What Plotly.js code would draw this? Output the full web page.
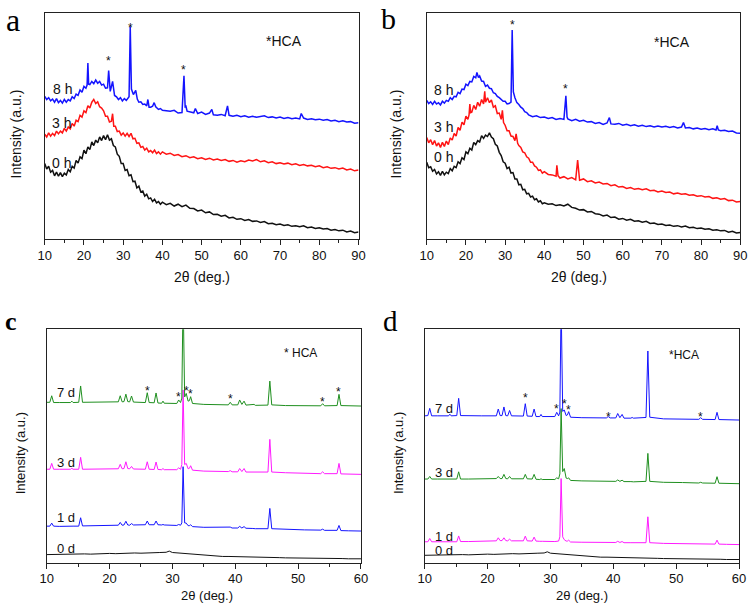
<!DOCTYPE html>
<html><head><meta charset="utf-8">
<script src="https://cdn.plot.ly/plotly-3.0.1.min.js"></script>
<style>html,body{margin:0;padding:0;background:#fff}#chart{width:748px;height:605px}</style>
</head><body><div id="chart"></div>
<script>
// ---------- Panel a (x = 2θ, y = relative intensity, 0..100 of panel height) ----------
const a0h = [[10,33.5],[10.5,31.0],[11,32.2],[11.5,29.6],[12,30.4],[12.5,28.0],[13,29.6],[13.5,27.8],[14,29.4],[14.5,27.6],[15,29.2],[15.5,28.4],[16,30.8],[16.5,29.8],[17,32.2],[17.5,31.4],[18,34.8],[18.5,33.6],[19,36.4],[19.5,35.6],[20,39.4],[20.5,37.8],[21,40.8],[21.5,39.6],[22,43.0],[22.5,41.4],[23,43.8],[23.5,42.6],[24,45.2],[24.5,43.6],[25,45.8],[25.5,44.0],[26,46.2],[26.5,43.8],[27,44.4],[27.5,41.4],[28,40.8],[28.5,37.6],[29,36.6],[29.5,33.4],[30,33.4],[30.5,30.4],[31,30.8],[31.5,28.0],[32,28.4],[32.5,25.4],[33,25.6],[33.5,22.6],[34,23.4],[34.5,20.8],[35,21.2],[35.5,19.0],[36,19.8],[36.5,17.8],[37,18.2],[37.5,16.6],[38,17.6],[38.5,16.0],[39,16.6],[39.5,15.4],[40,16.3],[41,15.2],[42,15.8],[43,14.6],[44,15.4],[45,14.3],[46,15.0],[47,13.6],[48,13.5],[49,12.4],[50,12.8],[51,11.6],[52,12.0],[53,10.8],[54,10.9],[55,10.1],[56,10.5],[57,9.3],[58,9.6],[59,8.7],[60,9.0],[61,8.2],[62,8.6],[63,7.8],[64,8.0],[65,7.3],[66,7.7],[67,6.8],[68,7.0],[69,6.3],[70,6.6],[71,6.0],[72,6.3],[73,5.6],[74,5.9],[75,5.4],[76,5.8],[77,5.0],[78,5.3],[79,4.7],[80,5.0],[81,4.4],[82,4.6],[83,3.9],[84,4.2],[85,3.6],[86,3.9],[87,3.1],[88,3.5],[89,2.8],[90,3.1]];
const a3h = [[10,46.4],[10.5,45.2],[11,47.0],[11.5,45.6],[12,46.8],[12.5,45.8],[13,47.8],[13.5,46.6],[14,47.8],[14.5,47.0],[15,49.0],[15.5,47.8],[16,49.6],[16.5,48.8],[17,51.2],[17.5,50.0],[18,52.6],[18.5,52.0],[19,54.8],[19.5,54.0],[20,56.8],[20.5,56.0],[21,59.0],[21.5,58.0],[22,60.6],[22.5,61.8],[23,60.0],[23.5,60.8],[24,58.6],[24.5,58.0],[25,56.8],[25.5,54.4],[26,54.4],[26.5,51.8],[27,52.2],[27.3,55.5],[27.6,50.0],[28,50.0],[28.5,47.6],[29,47.8],[29.5,46.0],[30,47.0],[30.5,45.6],[31,46.8],[31.5,45.4],[32,46.8],[32.5,44.4],[33,44.6],[33.5,42.4],[34,42.6],[34.5,40.6],[35,41.0],[35.5,39.4],[36,40.2],[36.5,38.6],[37,39.2],[37.5,38.2],[38,39.4],[38.5,37.8],[39,38.6],[39.5,37.6],[40,38.6],[41,37.6],[42,38.0],[43,37.0],[44,37.4],[45,36.5],[46,36.9],[47,36.0],[48,36.4],[49,35.6],[50,36.0],[51,35.2],[52,35.8],[53,35.0],[54,35.4],[55,34.8],[56,35.2],[57,34.4],[58,34.8],[59,34.0],[60,34.6],[61,34.2],[62,35.0],[63,34.6],[64,35.2],[65,34.2],[66,34.6],[67,33.8],[68,34.2],[69,33.4],[70,33.8],[71,33.2],[72,33.6],[73,32.9],[74,33.3],[75,32.6],[76,33.0],[77,32.4],[78,32.7],[79,32.0],[80,32.4],[81,31.6],[82,32.0],[83,31.3],[84,31.6],[85,31.0],[86,31.4],[87,30.6],[88,31.0],[89,30.2],[90,30.6]];
const a8h = [[10,63.2],[10.5,61.8],[11,62.6],[11.5,61.2],[12,62.0],[12.5,60.6],[13,62.2],[13.5,60.4],[14,61.4],[14.5,60.2],[15,61.8],[15.5,60.6],[16,61.8],[16.5,61.2],[17,63.0],[17.5,62.2],[18,64.2],[18.5,63.6],[19,66.0],[19.5,65.0],[20,67.6],[20.5,66.8],[20.8,68.2],[21.0,78.0],[21.2,68.6],[21.5,68.4],[22,69.8],[22.5,68.8],[23,70.4],[23.5,69.0],[24,69.8],[24.5,68.2],[25,68.6],[25.5,66.8],[26.0,67.0],[26.3,74.6],[26.7,65.4],[27.3,69.8],[27.8,63.6],[28.3,63.0],[28.8,61.8],[29.3,62.6],[29.8,61.2],[30.3,62.2],[30.8,61.4],[31.3,62.6],[31.5,63.0],[31.8,94.1],[32.1,66.4],[32.6,64.0],[33.2,65.8],[33.6,62.0],[34,60.6],[34.5,60.8],[35,59.6],[35.5,59.8],[36,59.0],[36.3,61.8],[36.6,58.4],[37,58.4],[37.5,58.8],[37.9,60.4],[38.3,58.6],[39,57.4],[39.5,57.8],[40,57.0],[41,56.8],[42,56.6],[43,57.0],[44,55.8],[45,56.0],[45.5,72.3],[45.8,58.6],[46.0,58.8],[46.3,56.6],[47,56.4],[48,55.9],[48.4,57.8],[49,55.6],[50,56.2],[51,55.2],[52,55.8],[52.6,57.4],[53,55.0],[54,54.8],[55,55.2],[56,54.6],[56.6,59.0],[57,54.8],[58,54.4],[59,54.8],[60,54.2],[61,54.6],[62,54.0],[63,54.4],[64,53.9],[65,54.3],[66,54.6],[67,53.8],[68,54.1],[69,53.6],[70,54.0],[71,53.4],[72,53.8],[73,53.3],[74,53.6],[75,53.2],[75.4,55.6],[76,53.6],[77,53.0],[78,53.3],[79,52.8],[80,53.1],[81,52.6],[82,52.9],[83,52.3],[84,52.6],[85,52.0],[86,52.4],[87,51.8],[88,52.0],[89,51.3],[90,51.5]];

// ---------- Panel b ----------
const b0h = [[10,34.0],[10.5,31.6],[11,32.0],[11.5,30.0],[12,30.8],[12.5,28.8],[13,29.8],[13.5,28.2],[14,30.0],[14.5,28.4],[15,29.6],[15.5,29.0],[16,31.2],[16.5,30.2],[17,32.2],[17.5,31.6],[18,34.2],[18.5,33.4],[19,36.0],[19.5,35.2],[20,38.6],[20.5,37.8],[21,40.2],[21.5,39.4],[22,42.8],[22.5,41.8],[23,43.6],[23.5,43.0],[24,45.8],[24.5,44.6],[25,46.0],[25.5,45.4],[26,47.0],[26.5,45.2],[27,44.4],[27.5,42.0],[28,41.2],[28.5,38.4],[29,37.0],[29.5,34.2],[30,33.6],[30.5,31.2],[31,31.8],[31.5,29.2],[32,29.4],[32.5,26.6],[33,26.6],[33.5,24.0],[34,24.2],[34.5,21.8],[35,22.0],[35.5,20.0],[36,20.2],[36.5,18.6],[37,19.0],[37.5,17.4],[38,17.8],[38.5,16.4],[39,16.9],[39.5,15.6],[40,16.0],[41,15.4],[42,15.6],[43,14.8],[44,15.2],[45,14.6],[46,15.4],[47,14.0],[48,13.6],[49,12.8],[50,13.0],[51,12.0],[52,12.2],[53,11.2],[54,11.0],[55,10.2],[56,10.6],[57,9.5],[58,9.7],[59,8.8],[60,9.1],[61,8.3],[62,8.7],[63,7.9],[64,8.1],[65,7.4],[66,7.8],[67,6.9],[68,7.1],[69,6.4],[70,6.6],[71,6.0],[72,6.2],[73,5.6],[74,5.9],[75,5.3],[76,5.7],[77,5.0],[78,5.2],[79,4.6],[80,4.9],[81,4.3],[82,4.5],[83,3.9],[84,4.1],[85,3.6],[86,3.8],[87,3.0],[88,3.4],[89,2.7],[90,2.9]];
const b3h = [[10,45.0],[10.5,42.6],[11,44.0],[11.5,41.8],[12,43.6],[12.5,41.2],[13,42.6],[13.5,40.6],[14,42.8],[14.5,41.0],[15,43.4],[15.5,41.8],[16,44.8],[16.5,43.8],[17,46.8],[17.5,45.6],[18,49.4],[18.5,48.2],[19,51.8],[19.5,50.6],[20,54.4],[20.5,53.0],[20.8,55.0],[21.0,59.8],[21.2,56.0],[21.5,56.2],[22,59.2],[22.5,57.4],[23,60.6],[23.5,58.8],[24,61.8],[24.5,59.8],[24.8,65.4],[25.0,60.6],[25.5,62.6],[26,60.4],[26.5,61.6],[27,58.4],[27.5,59.0],[28,55.6],[28.5,55.8],[29,53.0],[29.3,57.0],[29.6,51.6],[30,50.4],[30.5,48.0],[31,48.0],[31.5,45.6],[32,45.4],[32.5,43.6],[32.8,46.6],[33.2,42.4],[33.5,41.4],[34,40.6],[34.5,38.6],[35,38.2],[35.5,36.4],[36,35.8],[36.5,34.0],[37,34.0],[37.5,32.4],[38,31.8],[38.5,30.4],[39,30.6],[39.5,29.2],[40,29.8],[41,28.6],[42,28.4],[43,27.8],[43.2,32.6],[43.5,28.0],[44,27.0],[45,27.6],[46,26.6],[47,27.2],[48,26.2],[48.5,35.0],[48.8,26.8],[49,26.0],[50,26.6],[51,25.4],[52,25.8],[53,24.8],[54,25.2],[55,24.4],[56,24.6],[57,23.6],[58,24.0],[59,23.0],[60,23.2],[61,22.4],[62,22.8],[63,22.0],[64,22.4],[65,21.8],[66,22.2],[67,21.4],[68,21.6],[69,20.8],[70,21.2],[71,20.6],[72,20.8],[73,20.0],[74,20.4],[75,19.8],[76,20.0],[77,19.4],[78,19.6],[79,18.9],[80,19.2],[81,18.6],[82,18.8],[83,18.0],[84,18.3],[85,17.6],[86,17.9],[87,17.0],[88,17.2],[89,16.4],[90,16.6]];
const b8h = [[10,61.4],[10.5,60.0],[11,60.8],[11.5,59.6],[12,61.0],[12.5,59.8],[13,60.4],[13.5,59.4],[14,61.0],[14.5,60.2],[15,61.4],[15.5,61.0],[16,62.6],[16.5,61.8],[17,63.2],[17.5,63.0],[18,65.0],[18.5,64.4],[19,66.4],[19.5,66.2],[20,68.6],[20.5,68.0],[21,69.8],[21.5,69.6],[22,72.0],[22.5,71.4],[22.8,73.8],[23.2,71.6],[23.5,72.2],[24,70.0],[24.5,69.8],[25,67.6],[25.5,68.2],[26,66.8],[26.5,66.6],[27,64.8],[27.5,64.4],[28,63.2],[28.5,62.6],[29,61.8],[29.5,61.0],[30,61.0],[30.5,59.8],[31,60.0],[31.5,60.6],[31.8,92.6],[32.1,65.2],[32.5,62.6],[33,60.4],[33.5,59.6],[34,58.4],[34.5,57.8],[35,56.4],[35.5,56.0],[36,55.0],[37,54.2],[38,54.6],[39,53.8],[40,54.0],[41,53.4],[42,53.8],[43,53.0],[44,53.4],[45,53.0],[45.5,63.4],[45.8,54.0],[46,53.2],[47,52.4],[48,53.0],[49,52.2],[50,52.6],[51,51.8],[52,52.0],[53,51.2],[54,51.6],[55,50.8],[56,51.4],[56.6,53.8],[57,51.0],[58,50.8],[59,51.2],[60,50.4],[61,50.8],[62,50.2],[63,50.6],[64,50.0],[65,50.4],[66,49.8],[67,50.2],[68,49.6],[69,50.0],[70,49.6],[71,49.9],[72,49.4],[73,49.8],[74,49.2],[75,49.6],[75.5,51.6],[76,49.2],[77,49.4],[78,48.8],[79,49.2],[80,48.6],[81,48.9],[82,48.4],[83,48.8],[83.8,48.3],[84.1,50.2],[84.4,48.3],[85,48.0],[86,48.2],[87,47.6],[88,47.8],[89,47.0],[90,46.9]];

// ---------- Panels c and d: shared 2θ grid ----------
const xC = [10,10.5,10.8,11.1,12,13,13.8,14.0,14.2,15.1,15.4,15.7,17,19,21.4,21.7,22.0,22.3,22.6,22.9,23.2,23.5,23.8,25.7,26.0,26.3,27.1,27.4,27.7,28.3,28.5,28.7,30.7,31.0,31.3,31.5,31.7,31.95,32.2,32.5,32.7,32.9,33.2,35,38.9,39.2,39.5,40.4,40.7,41.05,41.4,41.7,42.8,43.0,43.2,45.2,45.5,45.8,48,51,53.6,53.9,54.2,56.2,56.5,56.8,58,60];
const c7d = [68.7,68.7,71.5,68.6,68.6,68.7,68.6,69.2,68.6,68.7,75.7,68.7,68.7,68.8,68.9,71.5,68.9,69.0,72.2,69.0,68.9,71.4,68.8,68.6,72.8,68.6,68.5,72.7,68.4,68.3,69.2,68.3,68.2,69.7,68.6,70.5,115,71.0,72.5,69.2,69.4,71.1,68.2,67.8,67.6,68.7,67.6,67.6,69.7,67.8,69.2,67.5,67.5,67.8,67.4,67.5,77.8,67.6,67.3,67.3,67.2,68.1,67.2,67.3,72.1,67.3,67.2,67.1];
const c3d = [40.0,40.0,42.5,40.0,40.0,40.0,40.0,40.4,40.0,40.0,45.1,40.0,40.0,40.1,40.2,42.1,40.2,40.3,43.2,40.3,40.2,41.2,40.1,40.0,43.2,40.0,39.9,43.1,39.9,39.8,40.3,39.8,39.8,40.6,40.0,42.0,74,42.0,42.5,40.2,40.4,41.5,39.6,39.2,39.0,39.4,38.9,38.9,40.3,39.0,40.3,38.8,38.8,39.0,38.7,38.8,52.8,38.8,38.5,38.3,38.1,38.9,38.1,38.1,42.5,38.0,37.9,37.8];
const c1d = [15.6,15.6,16.9,15.6,15.5,15.6,15.6,15.9,15.6,15.6,19.2,15.7,15.8,15.9,16.0,17.2,16.0,16.1,17.7,16.1,16.0,16.7,16.1,16.2,17.8,16.2,16.2,17.8,16.2,16.1,16.3,16.1,15.9,16.3,16.0,17.0,41.1,17.0,16.9,15.8,15.8,16.2,15.4,15.1,14.9,15.2,14.8,14.8,15.5,14.8,15.4,14.7,14.6,14.7,14.5,14.5,23.2,14.5,14.2,14.0,13.9,14.3,13.8,13.8,15.9,13.7,13.6,13.5];
const c0d = [[10,3.4],[11,3.5],[12,3.4],[13,3.6],[14,3.5],[15,3.6],[16,3.7],[17,3.6],[18,3.8],[19,3.7],[20,3.9],[21,3.8],[22,4.0],[23,3.9],[24,4.1],[25,4.0],[26,4.2],[27,4.1],[28,4.3],[29,4.4],[29.5,4.9],[30,4.3],[31,4.1],[32,3.8],[33,3.5],[34,3.2],[35,3.0],[36,2.8],[37,2.7],[38,2.6],[39,2.6],[40,2.5],[41,2.4],[42,2.3],[43,2.3],[44,2.2],[45,2.2],[46,2.1],[47,2.1],[48,2.0],[49,2.0],[50,1.9],[51,1.9],[52,1.8],[53,1.8],[54,1.8],[55,1.7],[56,1.7],[57,1.7],[58,1.6],[59,1.6],[60,1.6]];
const d7d = [62.9,63.0,66.1,62.9,62.9,62.9,62.9,63.6,62.9,63.0,70.4,63.0,62.9,62.9,62.9,65.8,63.0,63.0,66.7,63.0,62.9,65.2,62.9,62.8,68.1,62.8,62.7,65.8,62.6,62.6,63.5,62.6,62.6,64.4,62.9,64.5,112,64.8,65.4,63.0,63.3,64.7,62.3,62.1,62.0,62.6,62.0,62.0,63.9,62.1,63.5,61.9,61.9,62.2,61.9,62.2,90.7,62.3,61.6,61.5,61.4,62.1,61.4,61.3,64.4,61.3,61.2,61.1];
const d3d = [35.8,35.8,36.9,35.8,35.8,35.8,35.8,36.0,35.8,35.8,38.9,35.8,35.8,35.9,36.0,36.9,36.0,36.0,37.8,36.0,35.9,36.9,35.9,35.9,37.8,35.9,35.8,37.8,35.7,35.6,35.9,35.6,35.6,36.3,35.9,38.0,66,39.0,40.3,36.2,36.0,36.3,35.2,35.0,34.9,35.1,34.8,34.8,35.4,34.8,35.3,34.7,34.7,34.8,34.6,34.8,46.8,34.8,34.4,34.3,34.1,34.4,34.1,34.0,36.8,34.0,33.9,33.8];
const d1d = [8.9,8.9,10.3,8.9,8.9,8.9,8.9,9.0,8.9,8.9,11.4,9.0,9.0,9.1,9.3,10.6,9.4,9.4,10.6,9.4,9.3,10.0,9.3,9.3,11.3,9.3,9.2,10.9,9.2,9.1,9.2,9.1,9.0,9.2,9.2,11.0,36,11.0,9.8,9.2,9.2,9.6,8.8,8.7,8.6,8.7,8.6,8.6,9.1,8.6,9.0,8.5,8.5,8.5,8.4,8.5,19.6,8.5,8.2,8.1,8.0,8.1,8.0,7.9,9.6,7.9,7.8,7.7];
const d0d = [[10,3.1],[11,3.2],[12,3.1],[13,3.3],[14,3.2],[15,3.3],[16,3.4],[17,3.3],[18,3.5],[19,3.4],[20,3.6],[21,3.5],[22,3.7],[23,3.6],[24,3.8],[25,3.7],[26,3.9],[27,3.8],[28,4.0],[29,4.1],[29.5,4.6],[30,4.0],[31,3.8],[32,3.5],[33,3.2],[34,2.9],[35,2.7],[36,2.5],[37,2.4],[38,2.3],[39,2.3],[40,2.2],[41,2.1],[42,2.0],[43,2.0],[44,1.9],[45,1.9],[46,1.8],[47,1.8],[48,1.7],[49,1.7],[50,1.6],[51,1.6],[52,1.5],[53,1.5],[54,1.5],[55,1.4],[56,1.4],[57,1.4],[58,1.3],[59,1.3],[60,1.3]];

// labels and markers (HCA asterisks: [2θ, height])
const hLabels = ['0 h','3 h','8 h'];
const dLabels = ['0 d','1 d','3 d','7 d'];
const starsA = [[26.3,80.1],[31.8,95.0],[45.5,76.4]];
const starsB = [[31.8,96.0],[45.5,67.8]];
const starsC = [[26.0,74.7],[31.0,72.1],[32.2,74.7],[32.9,73.7],[39.2,71.4],[53.9,70.1],[56.5,74.4]];
const starsD = [[26.0,71.8],[31.0,67.1],[32.2,69.2],[32.9,66.8],[39.2,63.9],[53.9,63.9]];

const BLUE='#1414ff', RED='#ff1414', BLACK='#111111', GREEN='#1f8f1f', MAG='#ff1aff';
function tp(pairs,color,ax,w){return {x:pairs.map(p=>p[0]),y:pairs.map(p=>p[1]),xaxis:'x'+ax,yaxis:'y'+ax,type:'scatter',mode:'lines',line:{color:color,width:w},hoverinfo:'skip',showlegend:false};}
function tg(ys,color,ax,w){return {x:xC,y:ys,xaxis:'x'+ax,yaxis:'y'+ax,type:'scatter',mode:'lines',line:{color:color,width:w},hoverinfo:'skip',showlegend:false};}

const data = [
  tp(a0h,BLACK,'',1.5), tp(a3h,RED,'',1.5), tp(a8h,BLUE,'',1.5),
  tp(b0h,BLACK,'2',1.5), tp(b3h,RED,'2',1.5), tp(b8h,BLUE,'2',1.5),
  tp(c0d,BLACK,'3',1), tg(c1d,BLUE,'3',1), tg(c3d,MAG,'3',1), tg(c7d,GREEN,'3',1),
  tp(d0d,BLACK,'4',1), tg(d1d,MAG,'4',1), tg(d3d,GREEN,'4',1), tg(d7d,BLUE,'4',1)
];

const FONT = 'Liberation Sans, Arial, sans-serif';
function xax(dom, rng, anchor){return {domain:dom, range:rng, anchor:anchor, dtick:10, ticks:'outside', ticklen:5, tickwidth:1, tickcolor:'#222',
  minor:{ticks:'outside', ticklen:3, dtick:5, tickcolor:'#222'}, showline:true, mirror:true, linecolor:'#222', linewidth:1,
  showgrid:false, zeroline:false, tickfont:{size:13, color:'#111', family:FONT}, ticklabelstandoff:-1, fixedrange:true};}
function yax(dom, anchor){return {domain:dom, range:[0,100], anchor:anchor, showticklabels:false, ticks:'', showline:true, mirror:true,
  linecolor:'#222', linewidth:1, showgrid:false, zeroline:false, fixedrange:true};}

const ann = [];
function txt(text,x,y,xref,yref,size,extra){ann.push(Object.assign({text:text,x:x,y:y,xref:xref,yref:yref,showarrow:false,
  font:{size:size,color:'#111',family:FONT},xanchor:'center',yanchor:'middle'},extra||{}));}
// axis titles (paper coordinates)
txt('2θ (deg.)',0.2695,0.542,'paper','paper',14);
txt('2θ (deg.)',0.774,0.542,'paper','paper',14);
txt('2θ (deg.)',0.277,0.0165,'paper','paper',13);
txt('2θ (deg.)',0.778,0.0165,'paper','paper',13);
txt('Intensity (a.u.)',0.021,0.779,'paper','paper',14,{textangle:-90});
txt('Intensity (a.u.)',0.529,0.779,'paper','paper',14,{textangle:-90});
txt('Intensity (a.u.)',0.027,0.251,'paper','paper',13,{textangle:-90});
txt('Intensity (a.u.)',0.532,0.251,'paper','paper',13,{textangle:-90});
// panel letters
const SERIF='Liberation Serif, Times New Roman, serif';
txt('a',0.017,0.999,'paper','paper',32,{yanchor:'top',borderpad:0,font:{size:32,color:'#000',family:SERIF}});
txt('b',0.520,0.999,'paper','paper',30,{yanchor:'top',borderpad:0,font:{size:30,color:'#000',family:SERIF}});
txt('<b>c</b>',0.015,0.468,'paper','paper',26,{font:{size:26,color:'#000',family:SERIF}});
txt('d',0.522,0.469,'paper','paper',29,{font:{size:29,color:'#000',family:SERIF}});
// HCA legends
txt('*HCA',71,87.8,'x','y',14);
txt('*HCA',72.7,87.4,'x2','y2',14);
txt('* HCA',50.3,89.7,'x3','y3',12);
txt('*HCA',51.2,88.8,'x4','y4',12);
// curve labels
txt(hLabels[2],14.5,66.5,'x','y',14); txt(hLabels[1],14.4,51.5,'x','y',14); txt(hLabels[0],14.4,33.6,'x','y',14);
txt(hLabels[2],14.4,66.0,'x2','y2',14); txt(hLabels[1],14.4,49.6,'x2','y2',14); txt(hLabels[0],14.4,36.3,'x2','y2',14);
txt(dLabels[3],13.0,73.0,'x3','y3',13); txt(dLabels[2],13.0,43.0,'x3','y3',13); txt(dLabels[1],13.0,19.1,'x3','y3',13); txt(dLabels[0],13.0,6.2,'x3','y3',13);
txt(dLabels[3],13.0,66.0,'x4','y4',13); txt(dLabels[2],13.0,38.8,'x4','y4',13); txt(dLabels[1],13.0,11.2,'x4','y4',13); txt(dLabels[0],13.0,5.2,'x4','y4',13);
// asterisks
starsA.forEach(s=>txt('*',s[0],s[1],'x','y',12,{yshift:-3}));
starsB.forEach(s=>txt('*',s[0],s[1],'x2','y2',12,{yshift:-3}));
starsC.forEach(s=>txt('*',s[0],s[1],'x3','y3',12,{yshift:-3}));
starsD.forEach(s=>txt('*',s[0],s[1],'x4','y4',12,{yshift:-3}));

const layout = {
  width:748, height:605, margin:{l:0,r:0,t:0,b:0}, paper_bgcolor:'#fff', plot_bgcolor:'#fff', showlegend:false,
  font:{family:FONT, color:'#111'},
  xaxis: xax([0.0598,0.4793],[10,90],'y'),  yaxis: yax([0.605,0.978],'x'),
  xaxis2:xax([0.5705,0.9897],[10,90],'y2'), yaxis2:yax([0.605,0.978],'x2'),
  xaxis3:xax([0.0624,0.4826],[10,60],'y3'), yaxis3:yax([0.0702,0.4557],'x3'),
  xaxis4:xax([0.5678,0.9880],[10,60],'y4'), yaxis4:yax([0.0702,0.4557],'x4'),
  annotations: ann
};
Plotly.newPlot('chart', data, layout, {displayModeBar:false, staticPlot:true});
</script>
</body></html>
